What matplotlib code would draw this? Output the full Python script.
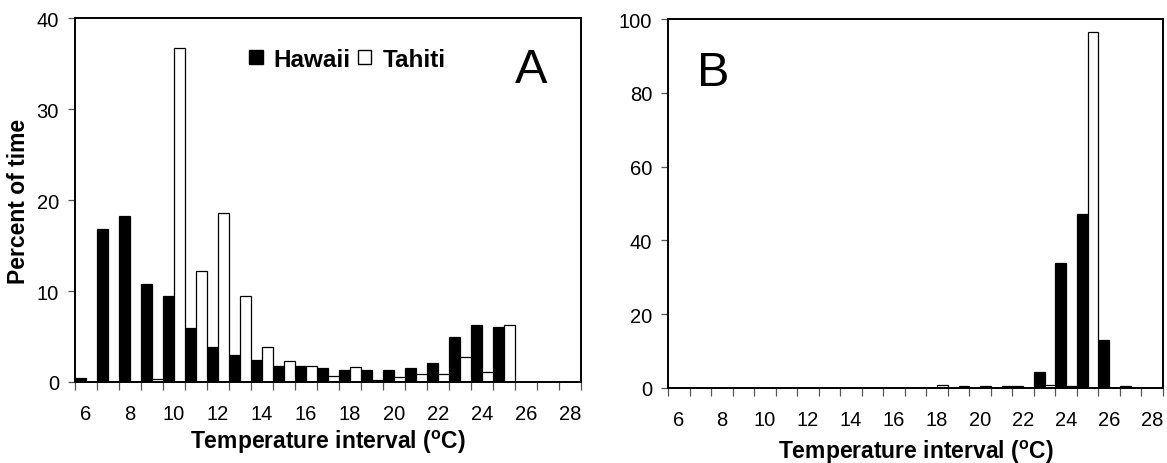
# -*- coding: utf-8 -*-
"""
Percent of time spent in each temperature interval - Hawaii vs Tahiti
Panel A and panel B
"""
import numpy as np
import matplotlib
matplotlib.use("Agg")
import matplotlib.pyplot as plt
from matplotlib.patches import Patch

plt.rcParams['font.family'] = 'Liberation Sans'
plt.rcParams['mathtext.fontset'] = 'custom'
plt.rcParams['mathtext.rm'] = 'Liberation Sans'
plt.rcParams['mathtext.bf'] = 'Liberation Sans:bold'

# temperature intervals (deg C)
temps = list(range(6, 29))
tickLabels = [str(t) if t % 2 == 0 else '' for t in temps]

# panel A
hawaiiA = [0.4, 16.8, 18.2, 10.8, 9.5, 5.9, 3.8, 3.0, 2.4, 1.8, 1.8, 1.5,
           1.3, 1.3, 1.3, 1.5, 2.1, 5.0, 6.3, 6.05, 0, 0, 0]
tahitiA = [0, 0, 0, 0.35, 36.7, 12.2, 18.6, 9.5, 3.85, 2.3, 1.75, 0.7,
           1.65, 0.2, 0.6, 0.9, 0.9, 2.7, 1.1, 6.3, 0, 0, 0]

# panel B
hawaiiB = [0, 0, 0, 0, 0, 0, 0, 0, 0, 0, 0, 0,
           0, 0, 0, 0, 0.5, 4.3, 33.8, 47.2, 12.9, 0.5, 0]
tahitiB = [0, 0, 0, 0, 0, 0, 0, 0, 0, 0, 0, 0,
           0.9, 0.5, 0.5, 0.5, 0, 0.8, 0.5, 96.6, 0, 0, 0]

W, H = 1167, 464
fig = plt.figure(figsize=(W / 100, H / 100), dpi=100)
axA = fig.add_axes([75 / W, 1 - 383 / H, 506 / W, 364 / H])
axB = fig.add_axes([668 / W, 1 - 389 / H, 495 / W, 369 / H])

index = np.arange(len(temps))
bar_width = 0.5

def draw_panel(ax, hawaii, tahiti, ymax, ystep, labelpad):
    ax.bar(index - bar_width / 2, hawaii, bar_width, color='black',
           edgecolor='black', linewidth=0.9, label='Hawaii')
    ax.bar(index + bar_width / 2, tahiti, bar_width, color='white',
           edgecolor='black', linewidth=0.9, label='Tahiti')
    ax.set_xlim(-0.5, len(temps) - 0.5)
    ax.set_ylim(0, ymax)
    ax.set_yticks(np.arange(0, ymax + 1, ystep))
    ax.set_xticks(index)
    ax.set_xticklabels(tickLabels)
    # ticks between the categories, like excel
    ax.set_xticks(np.arange(-0.5, len(temps)), minor=True)
    ax.tick_params(axis='x', which='major', length=0, pad=labelpad,
                   labelsize=14.5)
    ax.tick_params(axis='x', which='minor', length=6, width=0.9,
                   color='#555555', direction='out')
    ax.tick_params(axis='y', length=5, width=0.9, color='#555555',
                   direction='out', pad=6.5, labelsize=14.5)
    for s in ax.spines.values():
        s.set_linewidth(1.4)
    ax.set_xlabel(r'Temperature interval ($^\mathbf{o}$C)', fontsize=16.5,
                  fontweight='bold')

draw_panel(axA, hawaiiA, tahitiA, 40, 10, 15.5)
draw_panel(axB, hawaiiB, tahitiB, 100, 20, 16)

axA.xaxis.set_label_coords(0.5, -0.125)
axB.xaxis.set_label_coords(0.5, -0.135)

axA.set_ylabel('Percent of time', fontsize=16.5, fontweight='bold')
axA.yaxis.set_label_coords(-0.088, 0.5)

handles = [Patch(facecolor='black', edgecolor='black', label='Hawaii'),
           Patch(facecolor='white', edgecolor='black', label='Tahiti')]
axA.legend(handles=handles, loc='center', bbox_to_anchor=(0.5385, 0.887),
           ncol=2, frameon=False, prop={'weight': 'bold', 'size': 17.5},
           handlelength=0.55, handleheight=0.55, handletextpad=0.45,
           columnspacing=0.3, borderaxespad=0)

axA.text(0.902, 0.859, 'A', transform=axA.transAxes, fontsize=35,
         ha='center', va='center')
axB.text(0.091, 0.855, 'B', transform=axB.transAxes, fontsize=35,
         ha='center', va='center')

plt.savefig('out.png', dpi=100)
